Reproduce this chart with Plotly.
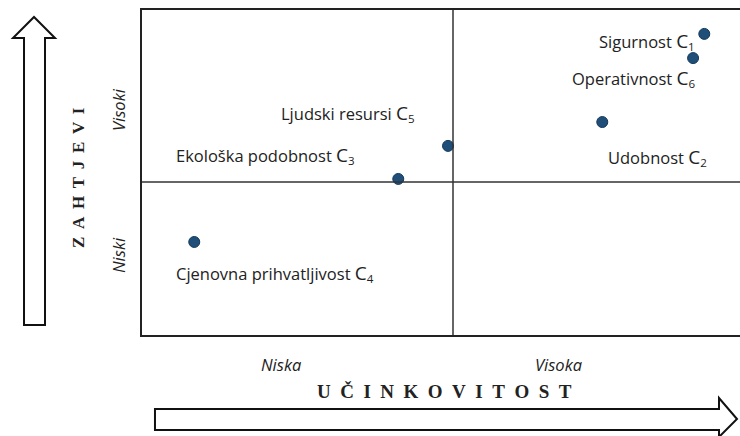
import plotly.graph_objects as go

# Criteria positioned on the efficiency / requirements matrix
names = ["Sigurnost", "Udobnost", "Ekološka podobnost",
         "Cjenovna prihvatljivost", "Ljudski resursi", "Operativnost"]
codes = ["1", "2", "3", "4", "5", "6"]
ucinkovitost = [9.04, 7.40, 4.12, 0.84, 4.92, 8.86]
zahtjevi = [9.84, 6.96, 5.10, 3.04, 6.18, 9.05]

x_ticks = ["Niska", "Visoka"]
y_ticks = ["Niski", "Visoki"]
x_title = "UČINKOVITOST"
y_title = "ZAHTJEVI"

W, H = 740, 436
L, R, T, B = 142, 740, 10, 335
XMAX = (R - L) / 311 * 5
YMAX = (B - T) / 153 * 5


def px2x(px):
    return (px - L) / (R - L) * XMAX


def px2y(py):
    return (B - py) / (B - T) * YMAX


def pxp(px):
    return (px - L) / (R - L)


def pyp(py):
    return (B - py) / (B - T)


def spaced(word, gap):
    return gap.join(word)


label_font = dict(family="'Open Sans', sans-serif", size=16.5, color="#222")
# label placement: (pixel x, pixel y, xanchor)
label_pos = [(697, 41, "right"), (606, 157, "left"), (174, 155, "left"),
             (174, 273, "left"), (417, 113, "right"), (697, 78, "right")]

fig = go.Figure(go.Scatter(
    x=ucinkovitost, y=zahtjevi, mode="markers",
    marker=dict(size=11, color="#1f4e79", line=dict(color="#163a5c", width=1)),
    hoverinfo="skip",
))

annotations = []
for name, code, (lx, ly, anc) in zip(names, codes, label_pos):
    text = f"{name} <span style='font-size:19px'>C</span><sub>{code}</sub>"
    annotations.append(dict(x=px2x(lx), y=px2y(ly), xref="x", yref="y", text=text,
                            showarrow=False, xanchor=anc, yanchor="middle", font=label_font))

it_font = dict(family="'Open Sans', sans-serif", size=16.5, color="#222", style="italic")
x_title_font = dict(family="'Liberation Serif', serif", size=19, color="#222", weight="bold")
y_title_font = dict(family="'Liberation Serif', serif", size=17, color="#222", weight="bold")
common = dict(xref="paper", yref="paper", showarrow=False, xanchor="center", yanchor="middle")
annotations += [
    dict(x=pxp(281), y=pyp(364), text=x_ticks[0], font=it_font, **common),
    dict(x=pxp(558), y=pyp(364), text=x_ticks[1], font=it_font, **common),
    dict(x=pxp(118), y=pyp(255), text=y_ticks[0], textangle=-90, font=it_font, **common),
    dict(x=pxp(118), y=pyp(110), text=y_ticks[1], textangle=-90, font=it_font, **common),
    dict(x=pxp(444), y=pyp(391), text=spaced(x_title, "\u00a0\u00a0"), font=x_title_font, **common),
    dict(x=pxp(78), y=pyp(178), text=spaced(y_title, "\u00a0\u2009"), textangle=-90, font=y_title_font, **common),
]


def path(points):
    return "M " + " L ".join(f"{pxp(a):.4f},{pyp(b):.4f}" for a, b in points) + " Z"


h_arrow = [(155, 409), (719, 409), (719, 398), (737, 419), (719, 437), (719, 430), (155, 430)]
v_arrow = [(24, 325), (24, 38), (13, 38), (34, 17), (55, 38), (45, 38), (45, 325)]

shapes = [
    dict(type="line", xref="x", yref="paper", x0=5, x1=5, y0=0, y1=1, line=dict(color="#333", width=1.5)),
    dict(type="line", xref="paper", yref="y", x0=0, x1=1, y0=5, y1=5, line=dict(color="#333", width=1.5)),
    dict(type="path", xref="paper", yref="paper", path=path(h_arrow), fillcolor="white",
         line=dict(color="#111", width=2)),
    dict(type="path", xref="paper", yref="paper", path=path(v_arrow), fillcolor="white",
         line=dict(color="#111", width=2)),
]

fig.update_layout(
    width=W, height=H,
    margin=dict(l=L, r=W - R, t=T, b=H - B),
    paper_bgcolor="white", plot_bgcolor="white",
    showlegend=False,
    xaxis=dict(range=[0, XMAX], showgrid=False, zeroline=False, showticklabels=False, ticks="",
               showline=True, mirror=True, linecolor="#222", linewidth=2),
    yaxis=dict(range=[0, YMAX], showgrid=False, zeroline=False, showticklabels=False, ticks="",
               showline=True, linecolor="#222", linewidth=2),
    annotations=annotations,
    shapes=shapes,
)

fig.write_html("out.html", config={"displayModeBar": False},
               post_script="document.body.style.margin='0';")
